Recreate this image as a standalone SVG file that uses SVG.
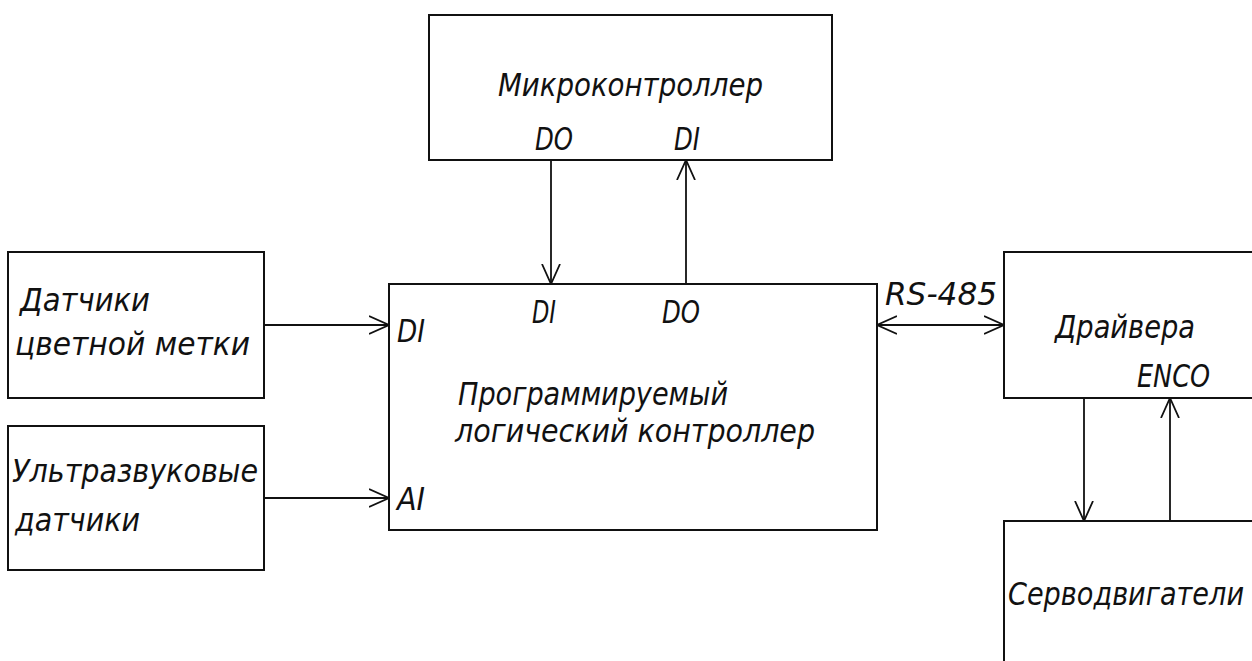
<svg xmlns="http://www.w3.org/2000/svg" width="1252" height="661" viewBox="0 0 1252 661">
<style>
.box{fill:#fff;stroke:#111;stroke-width:2}
.ln{fill:none;stroke:#111;stroke-width:1.8}
text{font-family:"Liberation Sans Narrow","DejaVu Sans Condensed","Liberation Sans",sans-serif;font-style:italic;font-size:32px;fill:#111}
</style>
<defs>
<marker id="ah" viewBox="0 0 20 20" markerWidth="20" markerHeight="20" refX="20" refY="10" orient="auto-start-reverse" markerUnits="userSpaceOnUse">
<path d="M0,1 L20,10 L0,19" fill="none" stroke="#111" stroke-width="1.8"/>
</marker>
</defs>
<rect width="1252" height="661" fill="#fff"/>
<g id="connectors">
<line class="ln" x1="551" y1="160" x2="551" y2="284" marker-end="url(#ah)"/>
<line class="ln" x1="686" y1="284" x2="686" y2="160" marker-end="url(#ah)"/>
<line class="ln" x1="264" y1="325" x2="389" y2="325" marker-end="url(#ah)"/>
<line class="ln" x1="264" y1="498" x2="389" y2="498" marker-end="url(#ah)"/>
<line class="ln" x1="877" y1="325" x2="1004" y2="325" marker-start="url(#ah)" marker-end="url(#ah)"/>
<line class="ln" x1="1084" y1="398" x2="1084" y2="521" marker-end="url(#ah)"/>
<line class="ln" x1="1170" y1="521" x2="1170" y2="398" marker-end="url(#ah)"/>
<text x="885" y="305" textLength="112" lengthAdjust="spacingAndGlyphs">RS-485</text>
</g>
<g id="microcontroller">
<rect class="box" x="429" y="15" width="403" height="145"/>
<text x="498" y="96" textLength="265" lengthAdjust="spacingAndGlyphs">Микроконтроллер</text>
<text x="535" y="150" textLength="38" lengthAdjust="spacingAndGlyphs">DO</text>
<text x="674" y="150" textLength="26" lengthAdjust="spacingAndGlyphs">DI</text>
</g>
<g id="color-sensors">
<rect class="box" x="8" y="252" width="256" height="146"/>
<text x="20" y="311" textLength="130" lengthAdjust="spacingAndGlyphs">Датчики</text>
<text x="15" y="355" textLength="235" lengthAdjust="spacingAndGlyphs">цветной метки</text>
</g>
<g id="ultrasonic-sensors">
<rect class="box" x="8" y="426" width="256" height="144"/>
<text x="12" y="482" textLength="246" lengthAdjust="spacingAndGlyphs">Ультразвуковые</text>
<text x="15" y="531" textLength="125" lengthAdjust="spacingAndGlyphs">датчики</text>
</g>
<g id="plc">
<rect class="box" x="389" y="284" width="488" height="246"/>
<text x="397" y="342" textLength="28" lengthAdjust="spacingAndGlyphs">DI</text>
<text x="397" y="510" textLength="28" lengthAdjust="spacingAndGlyphs">AI</text>
<text x="532" y="323" textLength="24" lengthAdjust="spacingAndGlyphs">DI</text>
<text x="662" y="323" textLength="38" lengthAdjust="spacingAndGlyphs">DO</text>
<text x="458" y="405" textLength="270" lengthAdjust="spacingAndGlyphs">Программируемый</text>
<text x="455" y="442" textLength="360" lengthAdjust="spacingAndGlyphs">логический контроллер</text>
</g>
<g id="drivers">
<rect class="box" x="1004" y="252" width="260" height="146"/>
<text x="1055" y="338" textLength="140" lengthAdjust="spacingAndGlyphs">Драйвера</text>
<text x="1137" y="387" textLength="73" lengthAdjust="spacingAndGlyphs">ENCO</text>
</g>
<g id="servomotors">
<rect class="box" x="1004" y="521" width="260" height="160"/>
<text x="1008" y="605" textLength="236" lengthAdjust="spacingAndGlyphs">Серводвигатели</text>
</g>
</svg>
